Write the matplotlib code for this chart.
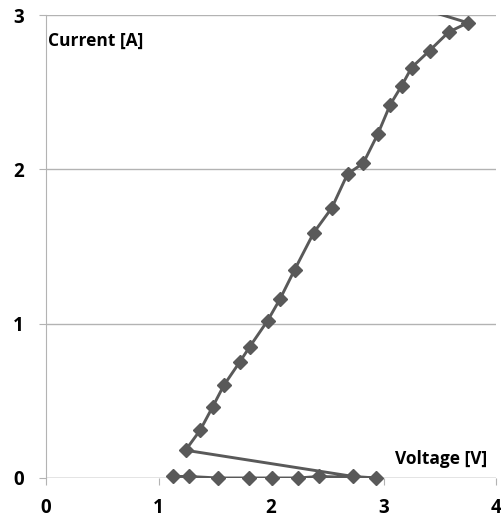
import matplotlib.pyplot as plt

plt.rcParams['font.family'] = ['Open Sans', 'DejaVu Sans']

# measured points, in recorded order
voltage = [1.13, 1.27, 1.53, 1.80, 2.01, 2.24, 2.43, 2.93, 2.73,
           1.24, 1.37, 1.48, 1.58, 1.72, 1.81, 1.97, 2.08, 2.21, 2.38, 2.54,
           2.68, 2.82, 2.95, 3.06, 3.16, 3.25, 3.41, 3.58, 3.75, 3.30]
current = [0.01, 0.01, 0.00, 0.00, 0.00, 0.00, 0.01, 0.00, 0.01,
           0.18, 0.31, 0.46, 0.60, 0.75, 0.85, 1.02, 1.16, 1.35, 1.59, 1.75,
           1.97, 2.04, 2.23, 2.42, 2.54, 2.66, 2.77, 2.89, 2.95, 3.05]

xticks = [0, 1, 2, 3, 4]
yticks = [0, 1, 2, 3]

fig = plt.figure(figsize=(5.01, 5.19), dpi=100)
ax = fig.add_axes([0.092, 0.079, 0.898, 0.892])

col = '#595959'
# line clipped at the top, markers not clipped so the ones on y=0 show whole
ax.plot(voltage, current, color=col, lw=2.1, zorder=3)
inside = [(v, c) for v, c in zip(voltage, current) if c <= 3]
ax.plot([p[0] for p in inside], [p[1] for p in inside], ls='none',
        marker='D', ms=6.8, color=col, clip_on=False, zorder=4)

ax.set_xlim(0, 4)
ax.set_ylim(0, 3)
ax.set_xticks(xticks)
ax.set_yticks(yticks)
ax.set_xticklabels([str(t) for t in xticks], fontweight='bold')
ax.set_yticklabels([str(t) for t in yticks], fontweight='bold')
ax.grid(axis='y', color='#b3b3b3', lw=1)
for s in ['top', 'right', 'bottom']:
    ax.spines[s].set_visible(False)
ax.spines['left'].set_color('#b3b3b3')
ax.axhline(0, color='#b3b3b3', lw=1, zorder=1)
ax.tick_params(colors='#b3b3b3', length=5, labelcolor='black', labelsize=13.5)
ax.tick_params(axis='x', pad=9.5)
ax.tick_params(axis='y', pad=11)

ax.text(0.004, 0.945, 'Current [A]', transform=ax.transAxes, fontsize=12.5,
        fontweight='bold', va='center', ha='left')
ax.text(0.775, 0.04, 'Voltage [V]', transform=ax.transAxes, fontsize=12.5,
        fontweight='bold', va='center', ha='left')

fig.savefig('out.png')
